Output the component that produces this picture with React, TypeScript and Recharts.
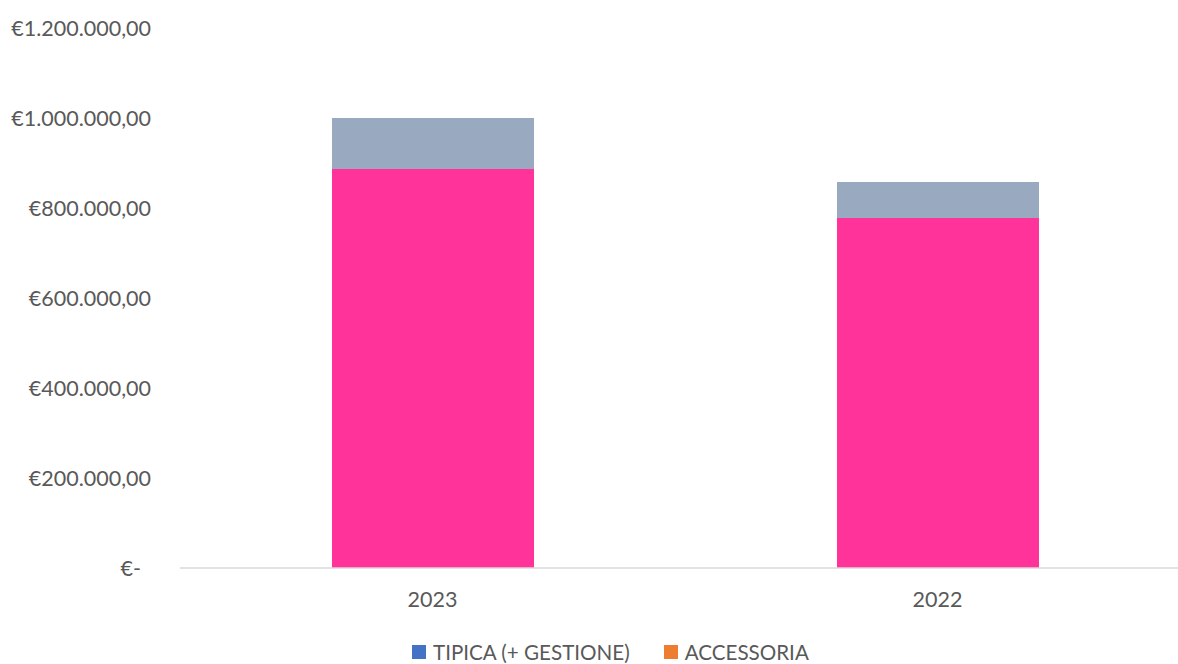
// Ricavi per anno: colonna impilata tipica + accessoria.
import { Bar, BarChart, Legend, XAxis, YAxis } from "recharts";

const ANNI = ["2023", "2022"];
const TIPICA = [886700, 777800];
const ACCESSORIA = [113300, 80000];
const Y_TICKS = [0, 200000, 400000, 600000, 800000, 1000000, 1200000];

const TEXT = "#595959";
const FONT = "Lato, 'Open Sans', sans-serif";

const data = ANNI.map((anno, i) => ({
  anno,
  tipica: TIPICA[i],
  accessoria: ACCESSORIA[i],
}));

// Formato contabile italiano: €1.200.000,00 e "€-" per lo zero.
function euro(v: number) {
  if (v === 0) return "€-";
  const intero = Math.round(v)
    .toString()
    .replace(/\B(?=(\d{3})+(?!\d))/g, ".");
  return `€${intero},00`;
}

function YTick(props: { y?: number; payload?: { value: number } }) {
  const v = props.payload?.value ?? 0;
  return (
    <text
      x={v === 0 ? 141 : 151}
      y={props.y}
      textAnchor="end"
      dominantBaseline="central"
      fill={TEXT}
      fontSize={21.5}
      fontFamily={FONT}
    >
      {euro(v)}
    </text>
  );
}

function Legenda() {
  const item = (colore: string, testo: string, dopo: number) => (
    <span style={{ display: "inline-flex", alignItems: "center", marginRight: dopo }}>
      <span style={{ width: 14, height: 14, background: colore, marginRight: 7 }} />
      <span>{testo}</span>
    </span>
  );
  return (
    <div
      style={{
        height: 24,
        display: "flex",
        alignItems: "center",
        justifyContent: "flex-start",
        paddingLeft: 412,
        fontFamily: FONT,
        fontSize: 20.6,
        color: TEXT,
        whiteSpace: "nowrap",
      }}
    >
      {item("#4472C4", "TIPICA (+ GESTIONE)", 34)}
      {item("#ED7D31", "ACCESSORIA", 0)}
    </div>
  );
}

export default function App() {
  return (
    <div style={{ width: 1178, height: 664, background: "#fff", overflow: "hidden" }}>
      <style>{"body{margin:0}"}</style>
      <BarChart
        width={1178}
        height={664}
        data={data}
        margin={{ top: 28, right: -12, bottom: 0, left: 0 }}
        barCategoryGap={0}
      >
        <XAxis
          dataKey="anno"
          height={72}
          tickLine={false}
          axisLine={{ stroke: "#D9D9D9", strokeWidth: 1.5 }}
          tickMargin={18}
          tick={{ fill: TEXT, fontSize: 21.5, fontFamily: FONT }}
        />
        <YAxis
          width={180}
          domain={[0, 1200000]}
          ticks={Y_TICKS}
          tickLine={false}
          axisLine={false}
          tick={<YTick />}
        />
        <Legend
          verticalAlign="bottom"
          wrapperStyle={{ left: 0, width: 1178 }}
          content={() => <Legenda />}
        />
        <Bar dataKey="tipica" stackId="a" fill="#FF3399" barSize={202} isAnimationActive={false} />
        <Bar dataKey="accessoria" stackId="a" fill="#99A9BF" barSize={202} isAnimationActive={false} />
      </BarChart>
    </div>
  );
}
